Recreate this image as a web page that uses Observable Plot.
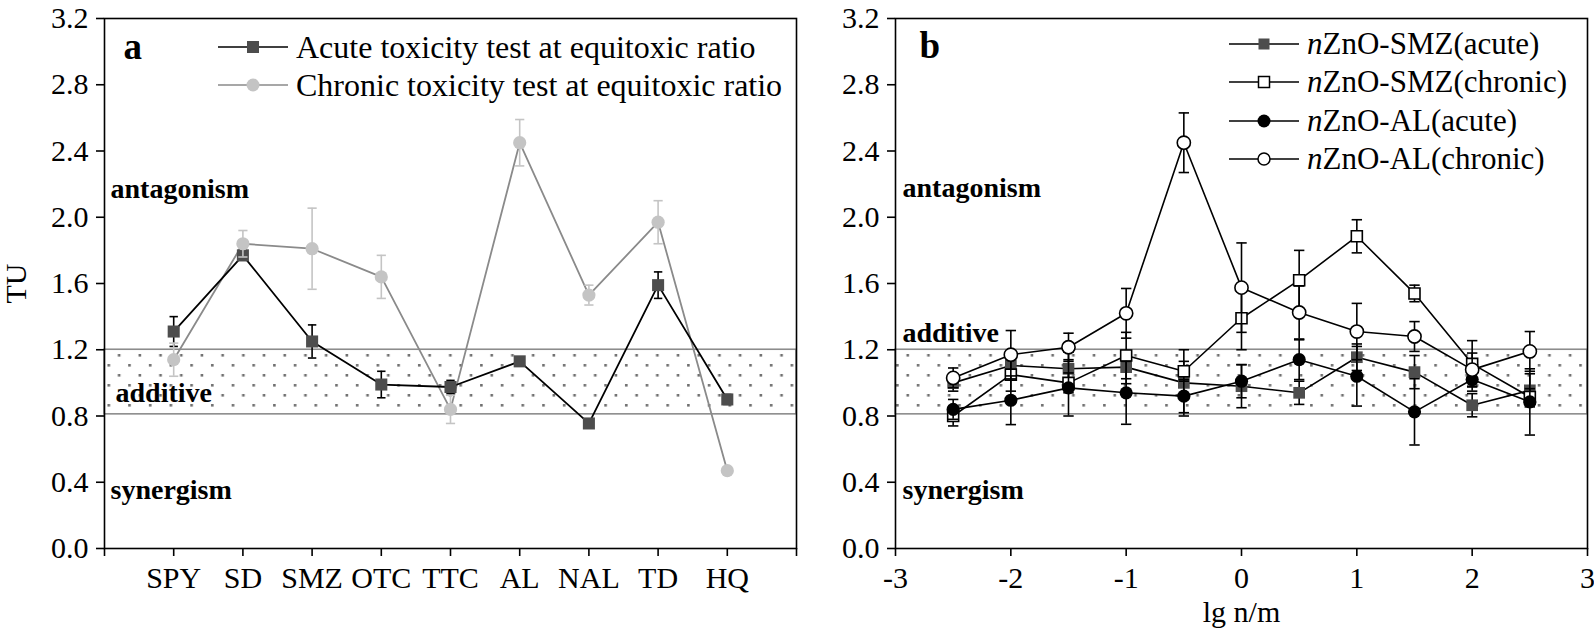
<!DOCTYPE html>
<html><head><meta charset="utf-8">
<script src="https://cdn.jsdelivr.net/npm/d3@7"></script>
<script src="https://cdn.jsdelivr.net/npm/@observablehq/plot@0.6"></script>
<style>
html,body{margin:0;padding:0;background:#fff;}
#wrap{position:relative;width:1594px;height:637px;display:flex;font-family:"Liberation Serif","Times New Roman",serif;overflow:hidden;}
#wrap svg{overflow:visible;flex:none;font-family:"Liberation Serif","Times New Roman",serif !important;}
#wrap svg text{font-family:"Liberation Serif","Times New Roman",serif !important;}
.leg{position:absolute;display:flex;align-items:center;height:40px;color:#000;white-space:nowrap;}
.leg svg{flex:none;}
.leg span{margin-left:8px;}
</style></head><body>
<div id="wrap"></div>
<script>
// ---------- Panel a data ----------
const categories = ["SPY","SD","SMZ","OTC","TTC","AL","NAL","TD","HQ"];
const acuteTU   = [1.31, 1.77, 1.25, 0.99, 0.975, 1.13, 0.755, 1.59, 0.90];
const acuteSD   = [0.09, 0.03, 0.10, 0.08, 0.04, 0.02, 0.02, 0.08, 0.03];
const chronicTU = [1.14, 1.84, 1.81, 1.64, 0.84, 2.45, 1.53, 1.97, 0.47];
const chronicSD = [0.10, 0.08, 0.245, 0.13, 0.085, 0.14, 0.06, 0.13, 0.02];

// ---------- Panel b data ----------
const lgnm = [-2.5, -2, -1.5, -1, -0.5, 0, 0.5, 1, 1.5, 2, 2.5];
const smzAcuteTU   = [1.00, 1.105, 1.085, 1.095, 1.00, 0.98, 0.94, 1.155, 1.065, 0.865, 0.955];
const smzAcuteSD   = [0.05, 0.06, 0.10, 0.10, 0.20, 0.13, 0.07, 0.08, 0.10, 0.07, 0.10];
const smzChronicTU = [0.80, 1.05, 1.00, 1.165, 1.07, 1.39, 1.62, 1.885, 1.54, 1.115, 0.915];
const smzChronicSD = [0.06, 0.10, 0.06, 0.14, 0.06, 0.19, 0.18, 0.10, 0.05, 0.14, 0.05];
const alAcuteTU    = [0.84, 0.895, 0.97, 0.94, 0.92, 1.01, 1.14, 1.04, 0.825, 1.02, 0.885];
const alAcuteSD    = [0.06, 0.147, 0.17, 0.19, 0.10, 0.10, 0.12, 0.18, 0.20, 0.07, 0.20];
const alChronicTU  = [1.03, 1.17, 1.215, 1.42, 2.45, 1.575, 1.425, 1.31, 1.28, 1.08, 1.19];
const alChronicSD  = [0.06, 0.146, 0.085, 0.15, 0.18, 0.27, 0.16, 0.17, 0.09, 0.10, 0.12];

// ---------- shared ----------
const additiveBand = [0.81, 1.2];
const yTicks = [0, 0.4, 0.8, 1.2, 1.6, 2.0, 2.4, 2.8, 3.2];
const xTicksA = [0, 1, 2, 3, 4, 5, 6, 7, 8, 9, 10];
const xTicksB = [-3, -2, -1, 0, 1, 2, 3];
const zoneLabels = ["antagonism", "additive", "synergism"];

const FONT = "'Liberation Serif', 'Times New Roman', serif";
const capSymbol = {draw(ctx, size) { const w = Math.sqrt(size / Math.PI); ctx.moveTo(-w, 0); ctx.lineTo(w, 0); }};

const tableA = categories.map((c, i) => ({cat: c, pos: i + 1, acute: acuteTU[i], acuteErr: acuteSD[i], chronic: chronicTU[i], chronicErr: chronicSD[i]}));

function errMarks(data, x, v, e, color, capR, sw) {
  return [
    Plot.ruleX(data, {x, y1: d => v(d) - e(d), y2: d => v(d) + e(d), stroke: color, strokeWidth: sw}),
    Plot.dot(data, {x, y: d => v(d) + e(d), symbol: capSymbol, r: capR, stroke: color, fill: "none", strokeWidth: sw}),
    Plot.dot(data, {x, y: d => v(d) - e(d), symbol: capSymbol, r: capR, stroke: color, fill: "none", strokeWidth: sw})
  ];
}

const commonStyle = {fontFamily: FONT, fontSize: "30px", background: "#fff", color: "#000", overflow: "visible"};

const plotA = Plot.plot({
  width: 830, height: 637,
  marginLeft: 104, marginRight: 34, marginTop: 18, marginBottom: 89,
  style: commonStyle,
  x: {type: "linear", domain: [0, 10], axis: null},
  y: {domain: [0, 3.2], axis: null},
  marks: [
    Plot.rect([additiveBand], {y1: d => d[0], y2: d => d[1], fill: "url(#dotpat)", stroke: "#8c8c8c", strokeWidth: 1.6}),
    Plot.frame({stroke: "#000", strokeWidth: 1.6}),
    Plot.axisY({ticks: yTicks, tickSize: 8, tickPadding: 8, tickFormat: d3.format(".1f"), strokeWidth: 1.6, fontSize: 30, label: null}),
    Plot.axisX({ticks: xTicksA, tickSize: 8, tickPadding: 10, tickFormat: i => categories[i - 1] || "", strokeWidth: 1.6, fontSize: 30, label: null}),
    Plot.text(["TU"], {frameAnchor: "left", rotate: -90, dx: -88, textAnchor: "middle", lineAnchor: "middle", fontSize: 30}),
    Plot.text([zoneLabels[0]], {frameAnchor: "left", y: 2.168, dx: 6, textAnchor: "start", lineAnchor: "middle", fontWeight: "bold", fontSize: 28}),
    Plot.text([zoneLabels[1]], {frameAnchor: "left", y: 0.938, dx: 11, textAnchor: "start", lineAnchor: "middle", fontWeight: "bold", fontSize: 28}),
    Plot.text([zoneLabels[2]], {frameAnchor: "left", y: 0.356, dx: 6, textAnchor: "start", lineAnchor: "middle", fontWeight: "bold", fontSize: 28}),
    Plot.text(["a"], {frameAnchor: "top-left", dx: 19, dy: 14, textAnchor: "start", lineAnchor: "top", fontWeight: "bold", fontSize: 37}),
    // lines
    Plot.line(tableA, {x: "pos", y: "chronic", stroke: "#8a8a8a", strokeWidth: 1.8}),
    Plot.line(tableA, {x: "pos", y: "acute", stroke: "#000", strokeWidth: 1.8}),
    // acute
    ...errMarks(tableA, "pos", d => d.acute, d => d.acuteErr, "#000", 4.2, 1.6),
    Plot.dot(tableA, {x: "pos", y: "acute", symbol: "square", r: 6.8, fill: "#4d4d4d", stroke: "none"}),
    // chronic
    ...errMarks(tableA, "pos", d => d.chronic, d => d.chronicErr, "#c4c4c4", 4.6, 1.6),
    Plot.dot(tableA, {x: "pos", y: "chronic", r: 6.6, fill: "#c4c4c4", stroke: "none"})
  ]
});

const mk = (vals, errs) => lgnm.map((x, i) => ({x, v: vals[i], e: errs[i]}));
const sSmzA = mk(smzAcuteTU, smzAcuteSD);
const sSmzC = mk(smzChronicTU, smzChronicSD);
const sAlA = mk(alAcuteTU, alAcuteSD);
const sAlC = mk(alChronicTU, alChronicSD);

function seriesMarks(data, dotOpts) {
  return [
    Plot.line(data, {x: "x", y: "v", stroke: "#000", strokeWidth: 1.6}),
    ...errMarks(data, "x", d => d.v, d => d.e, "#000", 5.2, 1.6),
    Plot.dot(data, {x: "x", y: "v", ...dotOpts})
  ];
}

const plotB = Plot.plot({
  width: 764, height: 637,
  marginLeft: 65, marginRight: 7, marginTop: 18, marginBottom: 89,
  style: commonStyle,
  x: {domain: [-3, 3], axis: null},
  y: {domain: [0, 3.2], axis: null},
  marks: [
    Plot.rect([additiveBand], {y1: d => d[0], y2: d => d[1], fill: "url(#dotpat)", stroke: "#8c8c8c", strokeWidth: 1.6}),
    Plot.frame({stroke: "#000", strokeWidth: 1.6}),
    Plot.axisY({ticks: yTicks, tickSize: 8, tickPadding: 8, tickFormat: d3.format(".1f"), strokeWidth: 1.6, fontSize: 30, label: null}),
    Plot.axisX({ticks: xTicksB, tickSize: 8, tickPadding: 10, tickFormat: d => String(d), strokeWidth: 1.6, fontSize: 30, label: null}),
    Plot.text(["lg n/m"], {frameAnchor: "bottom", dy: 64, textAnchor: "middle", lineAnchor: "middle", fontSize: 30}),
    Plot.text([zoneLabels[0]], {frameAnchor: "left", y: 2.175, dx: 7, textAnchor: "start", lineAnchor: "middle", fontWeight: "bold", fontSize: 28}),
    Plot.text([zoneLabels[1]], {frameAnchor: "left", y: 1.30, dx: 7, textAnchor: "start", lineAnchor: "middle", fontWeight: "bold", fontSize: 28}),
    Plot.text([zoneLabels[2]], {frameAnchor: "left", y: 0.356, dx: 7, textAnchor: "start", lineAnchor: "middle", fontWeight: "bold", fontSize: 28}),
    Plot.text(["b"], {frameAnchor: "top-left", dx: 24, dy: 13, textAnchor: "start", lineAnchor: "top", fontWeight: "bold", fontSize: 37}),
    ...seriesMarks(sSmzA, {symbol: "square", r: 6.6, fill: "#4d4d4d", stroke: "none"}),
    ...seriesMarks(sSmzC, {symbol: "square", r: 6.2, fill: "#fff", stroke: "#000", strokeWidth: 1.6}),
    ...seriesMarks(sAlA, {r: 6.6, fill: "#000", stroke: "none"}),
    ...seriesMarks(sAlC, {r: 6.6, fill: "#fff", stroke: "#000", strokeWidth: 1.6})
  ]
});

const wrap = document.getElementById("wrap");
wrap.appendChild(plotA);
wrap.appendChild(plotB);

// dotted fill pattern for the additive band
const defs = d3.select(plotA).insert("defs", ":first-child");
const pat = defs.append("pattern").attr("id", "dotpat").attr("patternUnits", "userSpaceOnUse")
  .attr("width", 20.7).attr("height", 20).attr("x", 0).attr("y", 0);
pat.append("rect").attr("width", 20.7).attr("height", 20).attr("fill", "#fff");
pat.append("rect").attr("x", 4).attr("y", 4).attr("width", 2.6).attr("height", 2.6).attr("fill", "#707070");
pat.append("rect").attr("x", 14.35).attr("y", 14).attr("width", 2.6).attr("height", 2.6).attr("fill", "#707070");

// ---------- legends ----------
function swatch(lineColor, marker) {
  const w = 70, h = 40;
  let m = "";
  if (marker.type === "square") {
    const s = marker.size;
    m = `<rect x="${35 - s / 2}" y="${20 - s / 2}" width="${s}" height="${s}" fill="${marker.fill}" stroke="${marker.stroke || "none"}" stroke-width="1.5"/>`;
  } else {
    m = `<circle cx="35" cy="20" r="${marker.size / 2}" fill="${marker.fill}" stroke="${marker.stroke || "none"}" stroke-width="1.5"/>`;
  }
  return `<svg width="${w}" height="${h}"><line x1="0" y1="20" x2="70" y2="20" stroke="${lineColor}" stroke-width="1.6"/>${m}</svg>`;
}
const legendA = [
  {label: "Acute toxicity test at equitoxic ratio", line: "#000", marker: {type: "square", size: 12, fill: "#4d4d4d"}},
  {label: "Chronic toxicity test at equitoxic ratio", line: "#8a8a8a", marker: {type: "circle", size: 13, fill: "#c4c4c4"}}
];
const legendB = [
  {label: "<i>n</i>ZnO-SMZ(acute)", line: "#000", marker: {type: "square", size: 11, fill: "#4d4d4d"}},
  {label: "<i>n</i>ZnO-SMZ(chronic)", line: "#000", marker: {type: "square", size: 11, fill: "#fff", stroke: "#000"}},
  {label: "<i>n</i>ZnO-AL(acute)", line: "#000", marker: {type: "circle", size: 13, fill: "#000"}},
  {label: "<i>n</i>ZnO-AL(chronic)", line: "#000", marker: {type: "circle", size: 12, fill: "#fff", stroke: "#000"}}
];
const legYA = [47, 85];
legendA.forEach((d, i) => {
  const div = document.createElement("div");
  div.className = "leg";
  div.style.left = "218px"; div.style.top = (legYA[i] - 20) + "px"; div.style.fontSize = "32px";
  div.innerHTML = swatch(d.line, d.marker) + `<span>${d.label}</span>`;
  wrap.appendChild(div);
});
const legYB = [44, 82, 121, 159];
legendB.forEach((d, i) => {
  const div = document.createElement("div");
  div.className = "leg";
  div.style.left = "1229px"; div.style.top = (legYB[i] - 20) + "px"; div.style.fontSize = "31px";
  div.innerHTML = swatch(d.line, d.marker) + `<span>${d.label}</span>`;
  wrap.appendChild(div);
});
</script></body></html>
